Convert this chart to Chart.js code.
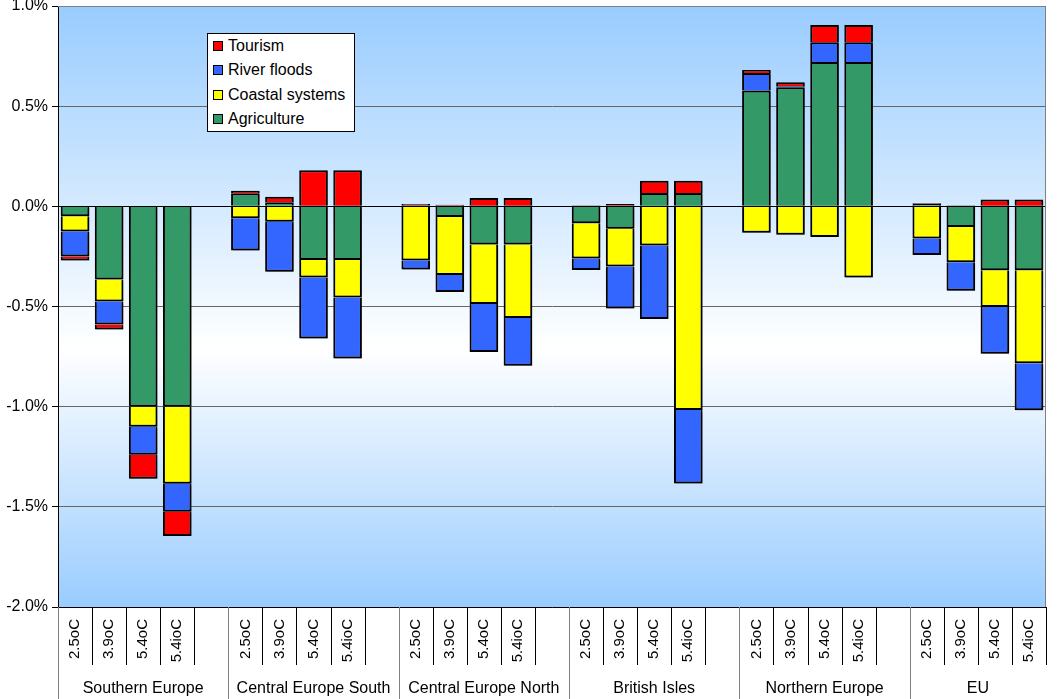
<!DOCTYPE html>
<html>
<head>
<meta charset="utf-8">
<script src="https://cdn.jsdelivr.net/npm/chart.js@4.4.1/dist/chart.umd.min.js"></script>
<style>
  html, body { margin: 0; padding: 0; background: #fff; }
  #wrap { position: relative; width: 1059px; height: 699px; }
  #legend {
    position: absolute; left: 207px; top: 33px; width: 141px;
    padding: 0 0 0 5px; background: #fff; border: 1px solid #000;
    font: 16px 'Liberation Sans', Arial, sans-serif; color: #000;
  }
  .legend-item { display: flex; align-items: center; height: 24.3px; }
  .legend-dot { width: 8px; height: 8px; border: 1px solid #000; margin-right: 5px; }
</style>
</head>
<body>
<div id="wrap">
  <canvas id="costChart"></canvas>
  <div id="legend"></div>
</div>
<script>
const regions   = ['Southern Europe', 'Central Europe South', 'Central Europe North', 'British Isles', 'Northern Europe', 'EU'];
const scenarios = ['2.5oC', '3.9oC', '5.4oC', '5.4ioC'];
const yTicks    = [1.0, 0.5, 0.0, -0.5, -1.0, -1.5, -2.0];

// % of GDP, four scenarios per region in the order above
const agriculture = [
  -0.05, -0.365, -1.0, -1.0,
  0.065, 0.02, -0.268, -0.268,
  0.007, -0.053, -0.19, -0.19,
  -0.085, -0.112, 0.066, 0.066,
  0.578, 0.595, 0.721, 0.721,
  0.012, -0.103, -0.319, -0.319,
];
const coastal = [
  -0.075, -0.11, -0.10, -0.385,
  -0.06, -0.077, -0.087, -0.187,
  -0.27, -0.29, -0.297, -0.368,
  -0.175, -0.188, -0.196, -1.017,
  -0.132, -0.142, -0.153, -0.355,
  -0.16, -0.176, -0.184, -0.464,
];
const riverFloods = [
  -0.125, -0.115, -0.14, -0.14,
  -0.16, -0.25, -0.305, -0.305,
  -0.045, -0.085, -0.24, -0.238,
  -0.058, -0.21, -0.367, -0.367,
  0.088, 0.005, 0.098, 0.098,
  -0.083, -0.143, -0.233, -0.235,
];
const tourism = [
  -0.02, -0.025, -0.12, -0.12,
  0.013, 0.028, 0.18, 0.18,
  0.005, 0.008, 0.042, 0.042,
  0.006, 0.012, 0.062, 0.062,
  0.015, 0.02, 0.086, 0.086,
  0.003, 0.006, 0.034, 0.034,
];

const SERIES = [
  { label: 'Agriculture',     data: agriculture, color: '#339966' },
  { label: 'Coastal systems', data: coastal,     color: '#FFFF00' },
  { label: 'River floods',    data: riverFloods, color: '#3366FF' },
  { label: 'Tourism',         data: tourism,     color: '#FF0000' },
];

// one empty slot between regions
function withGaps(values, gap) {
  const out = [];
  regions.forEach((r, g) => {
    scenarios.forEach((s, i) => out.push(values[g * scenarios.length + i]));
    if (g < regions.length - 1) out.push(gap);
  });
  return out;
}

const slotLabels = withGaps(regions.flatMap(() => scenarios), '');
const SLOTS = slotLabels.length;
const GROUP = scenarios.length + 1;

const frame = {
  id: 'frame',
  beforeDraw(chart) {
    const { ctx, chartArea: a } = chart;
    const grad = ctx.createLinearGradient(0, a.top, 0, a.bottom);
    grad.addColorStop(0, '#99CCFF');
    grad.addColorStop(0.57, '#FFFFFF');
    grad.addColorStop(1, '#99CCFF');
    ctx.save();
    ctx.fillStyle = grad;
    ctx.fillRect(a.left, a.top, a.right - a.left, a.bottom - a.top);
    ctx.restore();
  },
  beforeDatasetsDraw(chart) {
    const ctx = chart.ctx;
    ctx.save();
    ctx.shadowColor = 'rgba(0,0,0,0.35)';
    ctx.shadowOffsetX = 1.5;
    ctx.shadowOffsetY = 1.5;
    ctx.shadowBlur = 2;
  },
  afterDatasetsDraw(chart) {
    const { ctx, chartArea: a, scales } = chart;
    ctx.restore();
    const y0 = Math.round(scales.y.getPixelForValue(0)) + 0.5;
    ctx.save();
    ctx.strokeStyle = '#000';
    ctx.lineWidth = 1;
    ctx.beginPath();
    ctx.moveTo(a.left, y0);
    ctx.lineTo(a.right, y0);
    ctx.stroke();
    ctx.restore();
  },
  afterDraw(chart) {
    const { ctx, chartArea: a, scales } = chart;
    const slot = (a.right - a.left) / SLOTS;
    ctx.save();
    // plot border top / right
    ctx.strokeStyle = '#808080';
    ctx.lineWidth = 1;
    ctx.beginPath();
    ctx.moveTo(a.left, a.top + 0.5);
    ctx.lineTo(a.right - 0.5, a.top + 0.5);
    ctx.lineTo(a.right - 0.5, a.bottom);
    ctx.stroke();

    // category dividers under the axis
    for (let i = 0; i <= SLOTS; i++) {
      const x = Math.round(a.left + i * slot) + 0.5;
      const long = i % GROUP === 0 && i < SLOTS;
      ctx.strokeStyle = long ? '#808080' : '#000';
      ctx.beginPath();
      ctx.moveTo(x, a.bottom);
      ctx.lineTo(x, long ? chart.height : a.bottom + 58);
      ctx.stroke();
    }

    // region names
    ctx.fillStyle = '#000';
    ctx.font = "16px 'Liberation Sans', Arial, sans-serif";
    ctx.textAlign = 'center';
    ctx.textBaseline = 'middle';
    regions.forEach((name, g) => {
      const from = g * GROUP;
      const to = Math.min(from + GROUP, SLOTS);
      const x = scales.x.left + (from + to) / 2 * slot;
      ctx.fillText(name, x, chart.height - 10);
    });
    ctx.restore();
  },
};

Chart.defaults.font.family = "'Liberation Sans', Arial, sans-serif";
Chart.defaults.color = '#000';

new Chart(document.getElementById('costChart'), {
  type: 'bar',
  data: {
    labels: slotLabels,
    datasets: SERIES.map(s => ({
      label: s.label,
      data: withGaps(s.data, null),
      backgroundColor: s.color,
      borderColor: '#000',
      borderWidth: 2,
      borderSkipped: 'start',
      barPercentage: 0.84,
      categoryPercentage: 1,
    })),
  },
  options: {
    responsive: true,
    maintainAspectRatio: false,
    animation: false,
    layout: { padding: { top: 0, right: 2, left: 0, bottom: 0 } },
    plugins: { legend: { display: false }, tooltip: { enabled: false } },
    scales: {
      x: {
        stacked: true,
        offset: true,
        grid: { display: false, drawTicks: false },
        border: { display: true, color: '#000', width: 1 },
        ticks: {
          autoSkip: false,
          minRotation: 90,
          maxRotation: 90,
          padding: 12,
          font: { size: 15 },
        },
        afterFit: scale => { scale.height = 92; },
      },
      y: {
        stacked: true,
        min: -2,
        max: 1,
        afterBuildTicks: scale => { scale.ticks = yTicks.map(v => ({ value: v })); },
        ticks: {
          padding: 4,
          font: { size: 16 },
          callback: v => v.toFixed(1) + '%',
        },
        grid: {
          color: c => (c.tick && c.tick.value === 0 ? '#000' : '#666'),
          tickColor: '#000',
          tickLength: 6,
        },
        border: { display: true, color: '#000', width: 1 },
        afterFit: scale => {
          scale.width = 58;
          scale.paddingTop = 6;
          scale.paddingBottom = 0;
        },
      },
    },
  },
  plugins: [frame],
});

// Legend, top series first
const legend = document.getElementById('legend');
SERIES.slice().reverse().forEach(s => {
  const dot = document.createElement('span');
  dot.className = 'legend-dot';
  dot.style.backgroundColor = s.color;
  const label = document.createElement('span');
  label.textContent = s.label;
  const item = document.createElement('div');
  item.className = 'legend-item';
  item.appendChild(dot);
  item.appendChild(label);
  legend.appendChild(item);
});
</script>
</body>
</html>
